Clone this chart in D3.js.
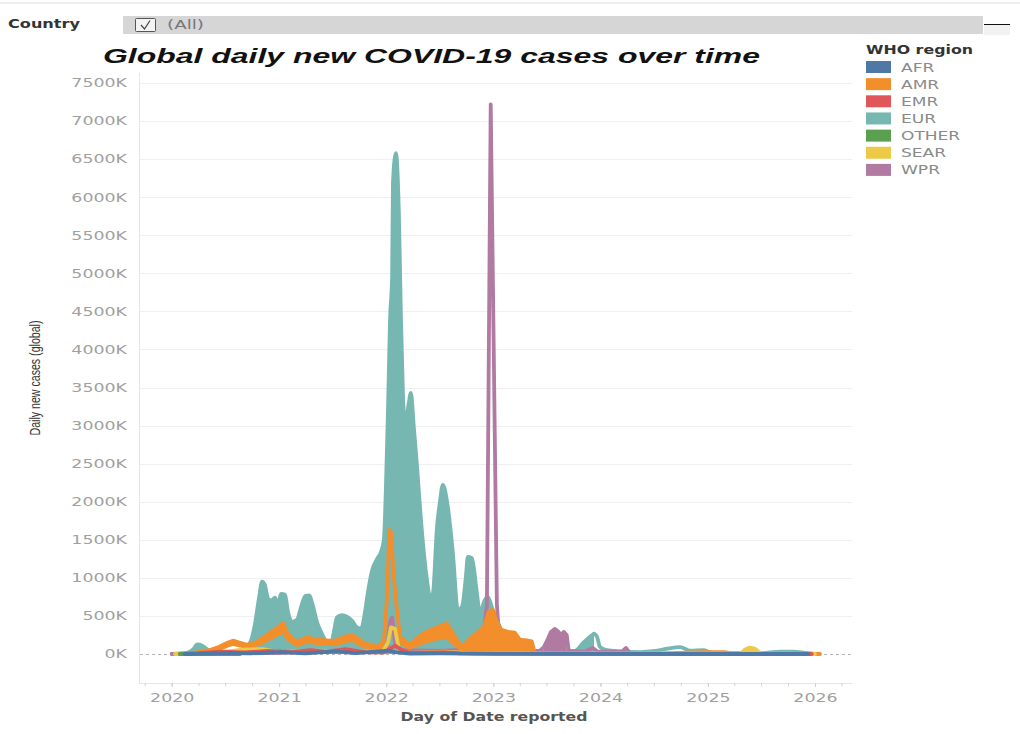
<!DOCTYPE html>
<html><head><meta charset="utf-8">
<script src="https://cdn.jsdelivr.net/npm/d3@7"></script>
<style>
body{margin:0;background:#fff;}
svg{display:block;font-family:"DejaVu Sans",sans-serif;}
</style></head><body>
<svg id="chart" width="1020" height="734"></svg>
<script>
// ---------------- DATA (values in thousands of daily new cases) ----------------
const categories = ["AFR","AMR","EMR","EUR","OTHER","SEAR","WPR"];
const categoryColors = ["#4e79a7","#f28e2b","#e15759","#76b7b2","#59a14f","#edc948","#b07aa1"];
const yTickValues = [0,500,1000,1500,2000,2500,3000,3500,4000,4500,5000,5500,6000,6500,7000,7500];
const xTickLabels = ["2020","2021","2022","2023","2024","2025","2026"];

const eurDates = ["2020-01-01","2020-02-18","2020-03-14","2020-03-28","2020-04-14","2020-05-05","2020-06-01","2020-07-11","2020-08-21","2020-09-24","2020-10-11","2020-10-25","2020-11-04","2020-11-14","2020-11-24","2020-12-05","2020-12-18","2020-12-28","2021-01-07","2021-01-21","2021-01-31","2021-02-14","2021-03-03","2021-03-17","2021-03-31","2021-04-13","2021-04-27","2021-05-10","2021-05-24","2021-06-10","2021-06-27","2021-07-07","2021-07-17","2021-08-03","2021-08-20","2021-09-06","2021-09-23","2021-10-07","2021-10-21","2021-10-31","2021-11-14","2021-12-01","2021-12-14","2021-12-24","2021-12-31","2022-01-07","2022-01-14","2022-01-21","2022-01-24","2022-02-03","2022-02-13","2022-02-20","2022-02-27","2022-03-06","2022-03-13","2022-03-19","2022-03-26","2022-04-05","2022-04-16","2022-04-26","2022-05-10","2022-05-20","2022-05-30","2022-06-09","2022-06-23","2022-07-03","2022-07-13","2022-07-30","2022-08-16","2022-09-02","2022-09-16","2022-09-29","2022-10-06","2022-10-20","2022-11-06","2022-11-16","2022-12-03","2022-12-13","2022-12-30","2023-01-13","2023-02-03","2023-03-05","2023-04-01","2023-04-18","2023-05-09","2023-05-16","2023-06-26","2023-08-16","2023-10-06","2023-11-03","2023-11-27","2023-12-10","2023-12-20","2023-12-30","2024-01-23","2024-03-08","2024-05-15","2024-07-05","2024-08-15","2024-09-29","2024-11-02","2024-12-16","2025-01-16","2025-06-28","2025-09-04","2025-10-19","2025-11-28","2026-01-01"];
const eurValues = [0,10,60,125,110,50,25,25,50,150,400,750,950,900,730,700,740,640,790,780,560,420,450,620,760,770,620,420,290,170,140,300,480,510,490,440,350,330,560,820,1100,1250,1340,1500,2200,3200,4400,4950,6200,6580,5800,4450,3400,3050,3150,3300,3430,2980,2460,1930,1300,970,750,800,1670,2000,2220,1930,1330,580,620,1000,1275,1260,800,540,710,750,580,450,280,230,190,160,145,40,30,25,40,145,230,265,230,95,50,35,25,40,70,90,45,50,15,10,30,30,15,0];
const eurLow = [0,0,0,0,0,0,0,0,0,0,0,0,0,0,0,0,0,0,0,0,0,0,0,0,0,0,0,0,0,0,0,0,0,0,0,0,0,0,0,0,0,0,0,0,0,0,0,0,0,0,0,0,0,0,0,0,0,0,0,0,0,0,0,0,0,0,0,0,0,0,0,0,0,0,0,0,0,0,0,0,0,0,0,0,0,0,0,0,0,0,0,0,null,null,null,null,null,null,null,null,null,null,null,null,null,null,null,null];

const amrDates = ["2020-01-22","2020-03-04","2020-04-04","2020-05-08","2020-06-11","2020-07-11","2020-07-28","2020-08-18","2020-09-14","2020-10-11","2020-11-07","2020-12-01","2020-12-25","2021-01-14","2021-01-31","2021-03-03","2021-04-07","2021-05-10","2021-06-13","2021-07-10","2021-08-20","2021-09-10","2021-10-14","2021-12-01","2021-12-24","2022-01-03","2022-01-12","2022-01-17","2022-01-27","2022-02-06","2022-02-17","2022-03-22","2022-05-06","2022-06-23","2022-07-27","2022-08-30","2022-09-19","2022-10-13","2022-11-10","2022-11-30","2022-12-17","2022-12-30","2023-01-13","2023-01-27","2023-02-20","2023-03-15","2023-04-01","2023-04-25","2023-05-12","2023-05-22","2023-08-16","2024-06-17","2024-12-20","2025-02-27","2025-03-27","2025-11-10","2026-01-18"];
const amrValues = [0,5,30,50,95,150,175,150,120,150,210,280,340,410,260,160,220,190,180,175,235,250,150,95,160,700,1630,1600,1000,600,225,120,270,350,400,185,95,200,290,360,560,580,420,320,290,280,190,180,165,15,8,5,25,25,5,5,0];
const amrLow = [0,0,10,25,60,110,130,110,90,110,150,200,250,300,190,115,160,140,130,125,170,180,100,60,100,null,null,null,null,null,150,80,150,200,220,100,40,0,0,0,0,0,0,0,0,0,0,0,0,null,null,null,null,null,null,null,null];

const wprDates = ["2020-01-01","2020-02-05","2020-07-18","2021-01-04","2021-08-13","2021-11-14","2022-01-04","2022-01-14","2022-01-21","2022-01-31","2022-02-17","2022-07-03","2022-10-13","2022-11-23","2022-12-10","2022-12-23","2023-01-13","2023-01-23","2023-04-01","2023-06-08","2023-06-22","2023-07-06","2023-07-16","2023-07-30","2023-08-09","2023-08-19","2023-08-29","2023-09-08","2023-09-15","2023-11-08","2023-12-06","2023-12-23","2024-03-14","2024-03-28","2024-04-11","2025-02-12","2026-01-01"];
const wprValues = [0,5,8,15,40,20,60,420,480,150,50,40,60,100,650,7220,650,100,40,40,90,200,290,330,300,250,290,250,40,30,80,30,30,80,5,2,0];
const wprLow = [null,null,null,null,null,null,null,null,null,null,null,null,null,null,null,null,null,null,null,null,0,0,0,0,0,0,0,0,null,null,null,null,null,null,null,null,null];

const searDates = ["2020-01-12","2020-05-28","2020-09-07","2020-11-04","2021-01-04","2021-05-20","2021-08-30","2021-12-20","2022-01-07","2022-01-17","2022-01-31","2022-02-13","2022-03-22","2022-07-19","2022-10-13","2023-04-01","2023-06-08","2025-04-22","2025-05-08","2025-05-24","2025-06-10","2025-06-27","2025-07-14","2026-01-01"];
const searValues = [0,15,60,65,25,45,30,30,150,350,330,60,15,30,10,12,3,3,60,85,70,15,3,0];
const searLow = [null,null,null,null,null,null,null,null,null,null,null,null,null,null,null,null,null,null,0,0,0,null,null,null];

const emrDates = ["2020-01-29","2020-04-01","2020-06-11","2020-09-07","2020-11-24","2021-02-14","2021-04-18","2021-06-10","2021-08-15","2021-10-21","2021-12-24","2022-01-31","2022-02-20","2022-03-22","2022-07-19","2022-09-09","2023-01-06","2023-12-30","2025-12-21"];
const emrValues = [0,10,30,22,40,25,50,30,65,25,20,110,60,15,25,8,5,2,0];

const otherDates = ["2020-01-29","2020-02-09","2020-03-04","2020-08-21"];
const otherValues = [0,1,0,0];

const afrDates = ["2020-02-14","2020-07-18","2020-09-24","2021-01-11","2021-03-31","2021-07-13","2021-09-19","2022-01-07","2022-01-31","2022-03-22","2022-07-03","2023-01-23","2025-12-09"];
const afrValues = [0,15,8,25,8,35,12,45,25,5,8,2,0];

// ---------------- CHART ----------------
const parse = d3.timeParse("%Y-%m-%d");
const svg = d3.select("#chart");
const W = 1020, H = 734;
const plot = {left: 139, right: 852, top: 73, bottom: 683};

const x = d3.scaleTime().domain([parse("2020-01-01"), parse("2026-01-01")]).range([171.7, 815]);
const y = d3.scaleLinear().domain([0, 7500]).range([654, 83]);
const color = d3.scaleOrdinal().domain(categories).range(categoryColors);

function stretch(sel, k) {
  sel.each(function () {
    const w = this.getComputedTextLength();
    this.setAttribute("textLength", (w * k).toFixed(1));
    this.setAttribute("lengthAdjust", "spacingAndGlyphs");
  });
}
function fitWidth(sel, w) {
  sel.attr("textLength", w).attr("lengthAdjust", "spacingAndGlyphs");
}

// top strip / filter control
svg.append("rect").attr("x", 0).attr("y", 2).attr("width", W).attr("height", 2).attr("fill", "#eeeeee");
svg.append("text").attr("x", 8).attr("y", 28).attr("font-size", 12).attr("font-weight", 600)
  .attr("fill", "#333").text("Country").call(fitWidth, 72);
svg.append("rect").attr("x", 123).attr("y", 16).attr("width", 860).attr("height", 18).attr("fill", "#d6d6d6");
svg.append("rect").attr("x", 135.5).attr("y", 18.5).attr("width", 20).attr("height", 13).attr("fill", "#f3f3f3")
  .attr("stroke", "#555").attr("stroke-width", 1).attr("rx", 1);
svg.append("path").attr("d", "M141,25 L144.5,29 L150,20.5").attr("fill", "none").attr("stroke", "#444").attr("stroke-width", 1.2);
svg.append("text").attr("x", 167).attr("y", 29).attr("font-size", 12).attr("fill", "#777").text("(All)").call(fitWidth, 37);
svg.append("rect").attr("x", 984).attr("y", 25).attr("width", 26).attr("height", 10).attr("fill", "#f2f2f2");
svg.append("line").attr("x1", 984).attr("x2", 1010).attr("y1", 24.5).attr("y2", 24.5).attr("stroke", "#111").attr("stroke-width", 1);

// title
svg.append("text").attr("x", 103).attr("y", 63).attr("font-family", "Liberation Sans, Arial, sans-serif")
  .attr("font-size", 21).attr("font-weight", "bold").attr("font-style", "italic").attr("fill", "#111")
  .text("Global daily new COVID-19 cases over time").call(fitWidth, 657);

// plot frame
const g = svg.append("g");
g.append("line").attr("x1", plot.left + 0.5).attr("x2", plot.left + 0.5).attr("y1", plot.top).attr("y2", plot.bottom)
  .attr("stroke", "#e6e6e6");
g.append("line").attr("x1", plot.left).attr("x2", plot.right).attr("y1", plot.bottom + 0.5).attr("y2", plot.bottom + 0.5)
  .attr("stroke", "#e6e6e6");

// gridlines
g.selectAll("line.grid").data(yTickValues.filter(d => d > 0)).join("line").attr("class", "grid")
  .attr("x1", plot.left + 1).attr("x2", plot.right)
  .attr("y1", d => Math.round(y(d)) + 0.5).attr("y2", d => Math.round(y(d)) + 0.5)
  .attr("stroke", "#efefef").attr("stroke-width", 1);
// zero line (dashed)
g.append("line").attr("x1", plot.left + 1).attr("x2", plot.right)
  .attr("y1", Math.round(y(0)) + 0.5).attr("y2", Math.round(y(0)) + 0.5)
  .attr("stroke", "#b5b5b5").attr("stroke-dasharray", "3,3");

// y axis
const yAxis = d3.axisLeft(y).tickValues(yTickValues).tickFormat(d => d + "K").tickSize(0).tickPadding(12);
const yAx = g.append("g").attr("transform", `translate(${plot.left},0)`).call(yAxis);
yAx.select(".domain").remove();
yAx.selectAll("text").attr("font-size", 12).attr("fill", "#a0a0a0").attr("font-family", "DejaVu Sans, sans-serif").call(stretch, 1.45);

// x axis
const yearDates = xTickLabels.map(s => parse(s + "-01-01"));
const quarterDates = d3.timeMonth.every(3).range(parse("2019-10-01"), parse("2026-05-01"));
const xMinor = d3.axisBottom(x).tickValues(quarterDates).tickFormat("").tickSize(3);
const xm = g.append("g").attr("transform", `translate(0,${plot.bottom})`).call(xMinor);
xm.select(".domain").remove();
xm.selectAll("line").attr("stroke", "#d0d0d0");
const xAxis = d3.axisBottom(x).tickValues(yearDates).tickFormat(d3.timeFormat("%Y")).tickSize(4).tickPadding(6);
const xAx = g.append("g").attr("transform", `translate(0,${plot.bottom})`).call(xAxis);
xAx.select(".domain").remove();
xAx.selectAll("line").attr("stroke", "#d0d0d0");
xAx.selectAll("text").attr("font-size", 12).attr("fill", "#a0a0a0").attr("font-family", "DejaVu Sans, sans-serif").call(stretch, 1.45);

// axis titles
svg.append("text").attr("x", 494).attr("y", 721).attr("text-anchor", "middle").attr("font-size", 12.5)
  .attr("font-weight", "bold").attr("fill", "#555").text("Day of Date reported").call(fitWidth, 187);
svg.append("text").attr("transform", "translate(40,378) rotate(-90)").attr("text-anchor", "middle")
  .attr("font-family", "Liberation Sans Narrow, Liberation Sans, sans-serif").attr("font-size", 14).attr("fill", "#333")
  .text("Daily new cases (global)").call(fitWidth, 115);

// series
function build(name, dates, values, low) {
  return {name, pts: dates.map((d, i) => ({date: parse(d), v: values[i], lo: low ? low[i] : null}))};
}
const seriesByName = {
  AFR: build("AFR", afrDates, afrValues),
  AMR: build("AMR", amrDates, amrValues, amrLow),
  EMR: build("EMR", emrDates, emrValues),
  EUR: build("EUR", eurDates, eurValues, eurLow),
  OTHER: build("OTHER", otherDates, otherValues),
  SEAR: build("SEAR", searDates, searValues, searLow),
  WPR: build("WPR", wprDates, wprValues, wprLow)
};
const drawOrder = ["EUR", "WPR", "AMR", "SEAR", "EMR", "OTHER", "AFR"];

svg.append("clipPath").attr("id", "clip").append("rect")
  .attr("x", plot.left + 1).attr("y", plot.top).attr("width", plot.right - plot.left - 1).attr("height", plot.bottom - plot.top);
const marks = svg.append("g").attr("clip-path", "url(#clip)");

const band = d3.area().defined(d => d.lo != null).x(d => x(d.date)).y0(d => y(d.lo)).y1(d => y(d.v));
const line = d3.line().x(d => x(d.date)).y(d => y(d.v));
const lowLine = d3.line().defined(d => d.lo != null && d.lo > 0).x(d => x(d.date)).y(d => y(d.lo));

drawOrder.forEach(name => {
  const s = seriesByName[name];
  const c = color(name);
  const sg = marks.append("g");
  const stroke = p => p.attr("fill", "none").attr("stroke", c).attr("stroke-width", 3.8)
    .attr("stroke-linejoin", "round").attr("stroke-linecap", "round");
  if (name === "EUR") {
    // filled envelope while daily values swing to zero; plain line afterwards
    let last = 0;
    s.pts.forEach((p, i) => { if (p.lo != null) last = i; });
    const filled = s.pts.slice(0, last + 1);
    const rest = s.pts.slice(last);
    sg.append("path").attr("d", band.curve(d3.curveMonotoneX)(filled)).attr("fill", c);
    sg.append("path").attr("d", line.curve(d3.curveMonotoneX)(filled)).call(stroke);
    sg.append("path").attr("d", line.curve(d3.curveMonotoneX)(rest)).call(stroke);
    band.curve(d3.curveLinear);
    line.curve(d3.curveLinear);
    return;
  }
  if (s.pts.some(p => p.lo != null)) {
    sg.append("path").attr("d", band(s.pts)).attr("fill", c).attr("stroke", "none");
    sg.append("path").attr("d", lowLine(s.pts)).call(stroke).attr("stroke-width", 3.5);
  }
  sg.append("path").attr("d", line(s.pts)).call(stroke);
});

// legend
svg.append("text").attr("x", 866).attr("y", 54).attr("font-size", 12.5).attr("font-weight", "bold")
  .attr("fill", "#333").text("WHO region").call(fitWidth, 107);
const lg = svg.append("g").selectAll("g").data(categories).join("g")
  .attr("transform", (d, i) => `translate(866,${67 + i * 17.15})`);
lg.append("rect").attr("x", 0).attr("y", -6).attr("width", 25).attr("height", 12).attr("fill", d => color(d));
lg.append("text").attr("x", 35).attr("y", 4.5).attr("font-size", 12).attr("fill", "#8a8a8a").text(d => d).call(stretch, 1.42);
</script>
</body></html>
